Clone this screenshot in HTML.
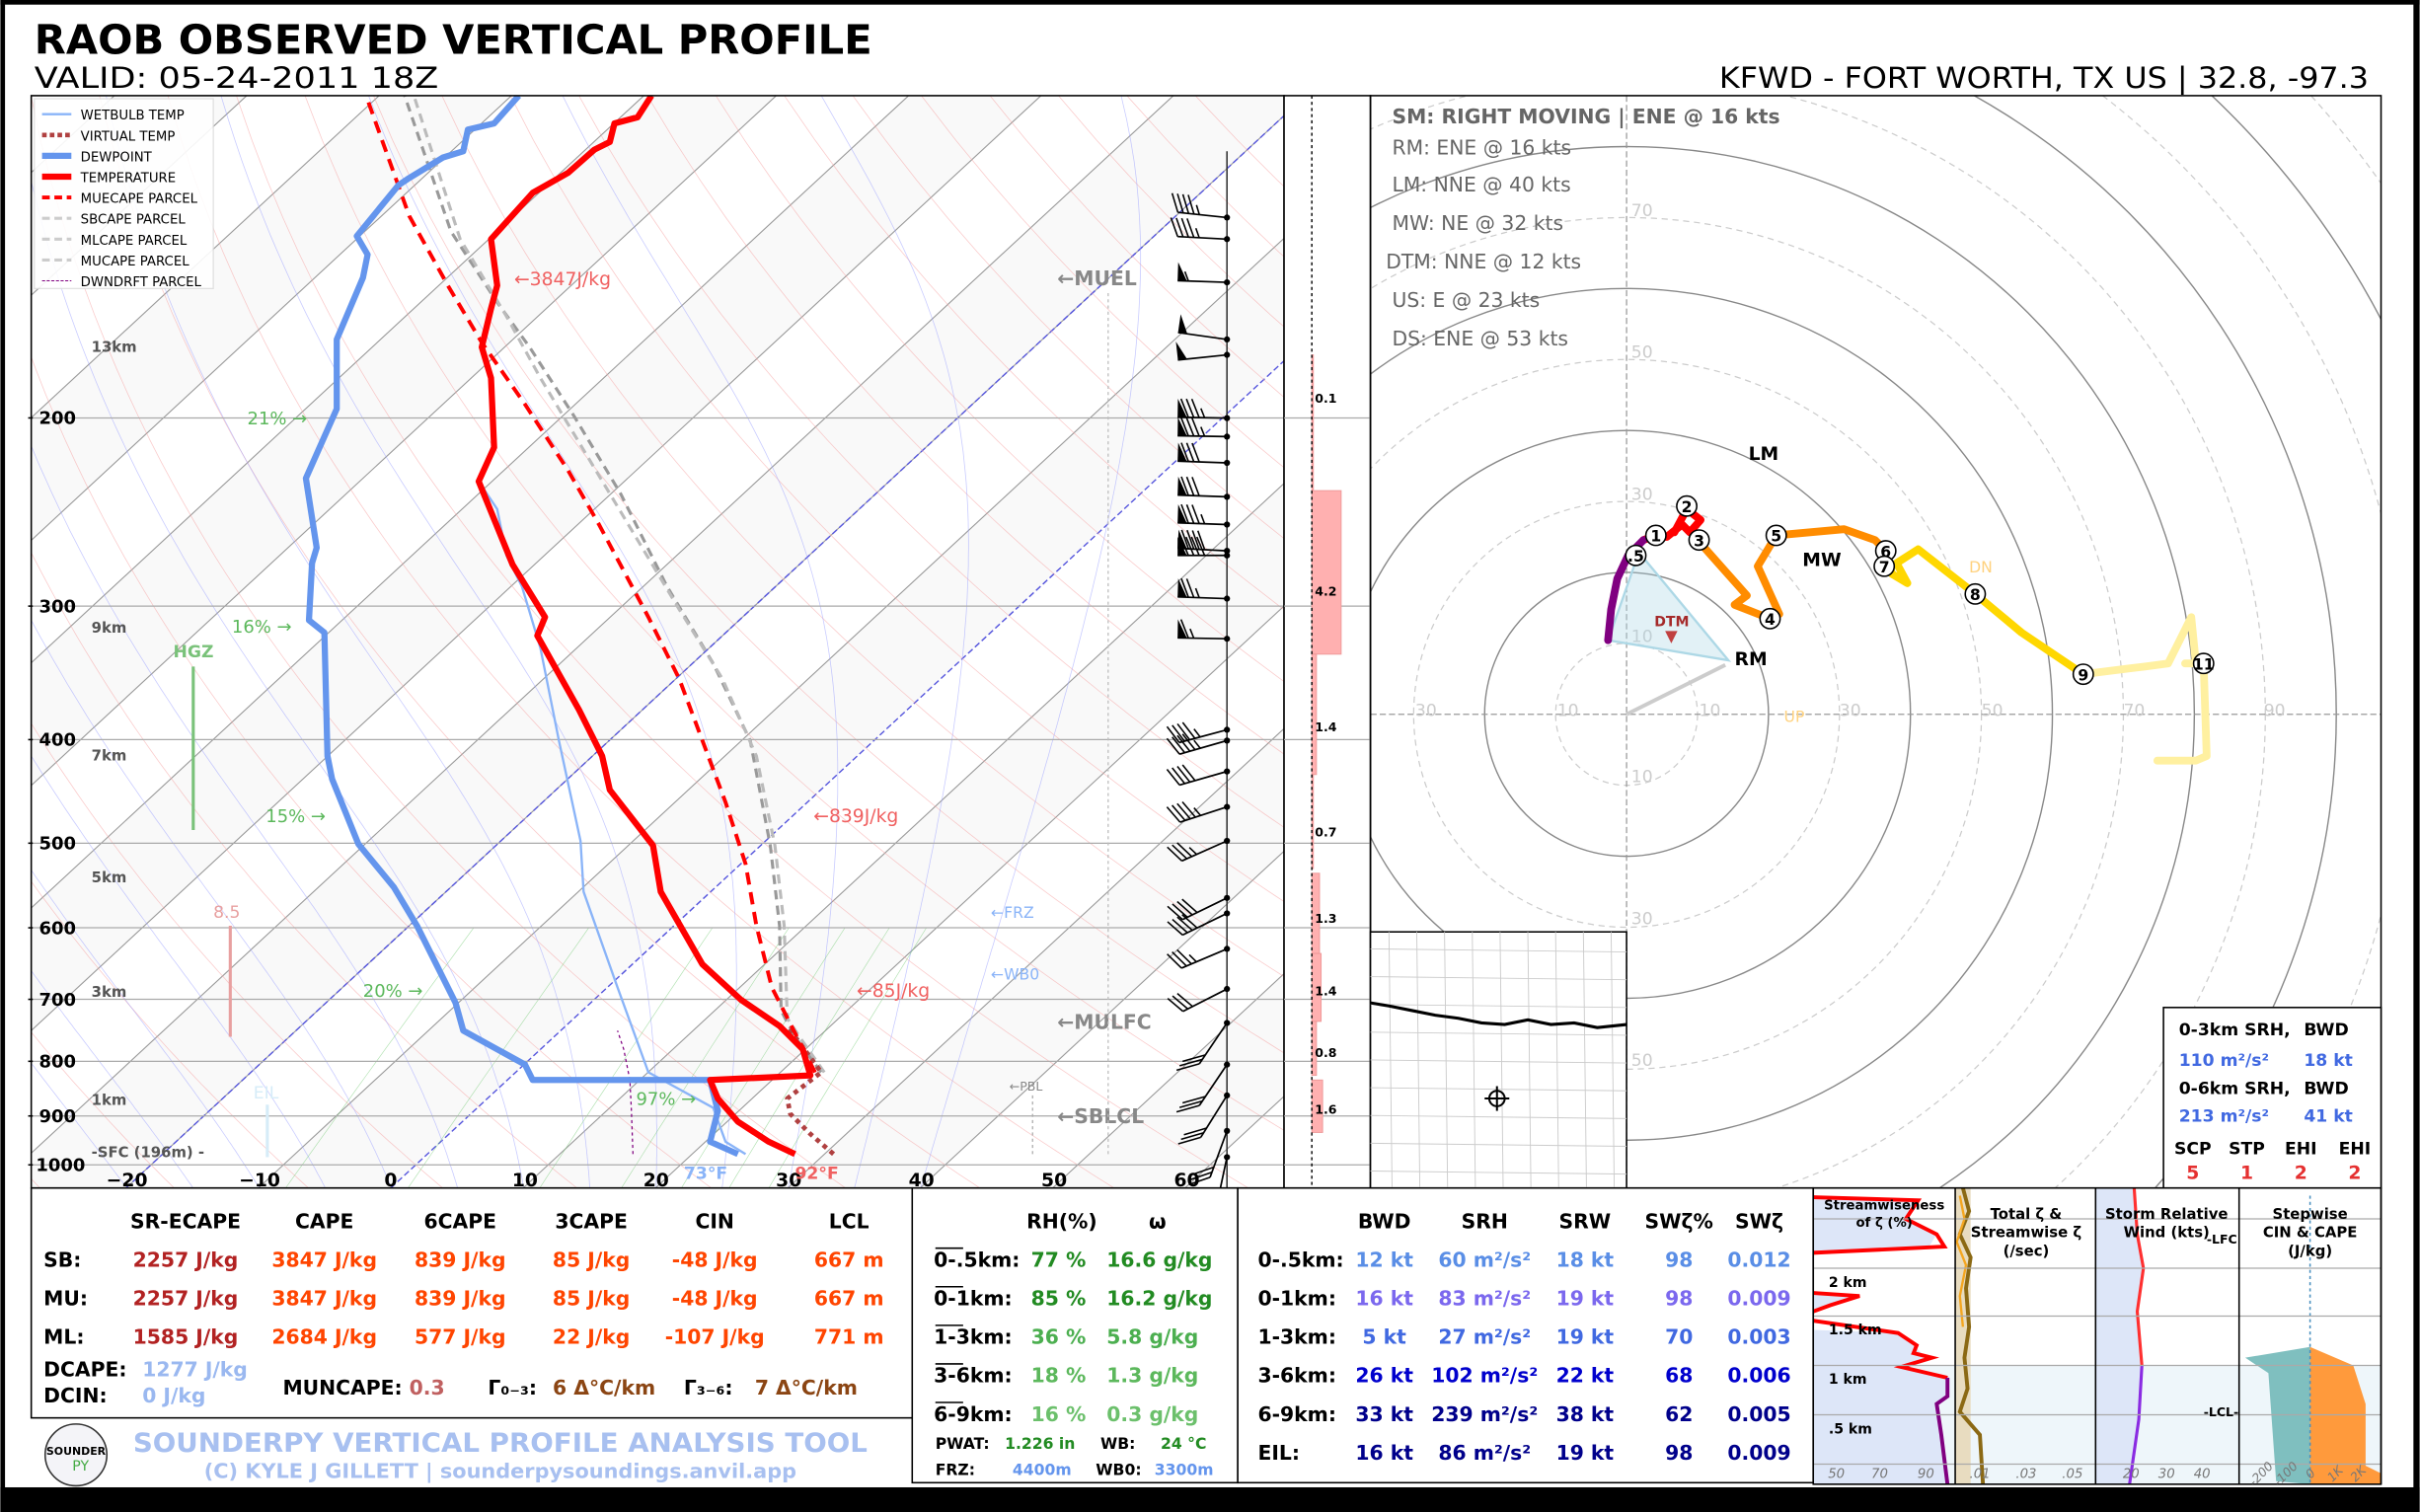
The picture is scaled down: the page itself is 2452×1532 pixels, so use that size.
<!DOCTYPE html>
<html><head><meta charset="utf-8">
<style>
html,body{margin:0;padding:0;background:#fff;overflow:hidden;width:2452px;height:1532px}
svg{display:block}
text{font-family:"DejaVu Sans","Liberation Sans",sans-serif}
</style></head>
<body>
<svg id="s" xmlns="http://www.w3.org/2000/svg" width="2452" height="1532" viewBox="0 0 1568 980">
<defs>
<clipPath id="cs"><rect x="20" y="62" width="812" height="708"/></clipPath>
<clipPath id="ch"><rect x="888" y="62" width="655" height="708"/></clipPath>
</defs>
<rect x="0" y="0" width="1568" height="980" fill="#fff"/>
<g id="skewbg" clip-path="url(#cs)"></g>
<g id="skewlines" clip-path="url(#cs)"></g>
<g id="hodo" clip-path="url(#ch)"></g>
<g id="barbs"></g>
<g id="main"></g>
</svg>
<script>
var NS="http://www.w3.org/2000/svg";
function el(p,tag,a,txt){var e=document.createElementNS(NS,tag);for(var k in a)e.setAttribute(k,a[k]);if(txt!==undefined)e.textContent=txt;document.getElementById(p).appendChild(e);return e;}
function yP(p){return 755+300.8*(Math.log(p)-Math.log(1000));}
var SK=1.08;
function xT(T,y){return 253+8.58*T+SK*(770-y);}
function pl(pts){return pts.map(function(q){return q[0].toFixed(1)+","+q[1].toFixed(1)}).join(" ");}
// shaded bands
for(var T=-150;T<80;T+=20){var y0=770,y1=62;
 el("skewbg","polygon",{points:pl([[xT(T,y0),y0],[xT(T+10,y0),y0],[xT(T+10,y1),y1],[xT(T,y1),y1]]),fill:"#f9f9f9"});}
// isotherms
for(var T=-160;T<=70;T+=10){
 el("skewbg","line",{x1:xT(T,770),y1:770,x2:xT(T,62),y2:62,stroke:T==0?"#5555dd":"#999",
 "stroke-width":T==0?0.9:0.7,"stroke-dasharray":T==0?"4,2":"none"});}
el("skewbg","line",{x1:xT(-20,770),y1:770,x2:xT(-20,62),y2:62,stroke:"#5555dd","stroke-width":0.9,"stroke-dasharray":"4,2"});
// dry adiabats
for(var th=-30;th<=200;th+=10){var pts=[];for(var p=1050;p>=100;p-=10){var Tk=(th+273.15)*Math.pow(p/1000,0.286)-273.15;var y=yP(p);pts.push([xT(Tk,y),y]);}
 el("skewbg","polyline",{points:pl(pts),fill:"none",stroke:"#f5a0a0","stroke-width":0.5,opacity:0.55});}
// moist adiabats
function es(T){return 6.112*Math.exp(17.67*T/(T+243.5));}
for(var t0=-20;t0<=40;t0+=5){var Tc=t0,pts=[];for(var p=1050;p>=100;p-=5){var y=yP(p);pts.push([xT(Tc,y),y]);
 var Tk=Tc+273.15,rs=0.622*es(Tc)/(p-es(Tc));var dTdp=(287*Tk+2.5e6*rs)/(p*(1004+2.5e6*2.5e6*rs*0.622/(287*Tk*Tk)));Tc-=dTdp*5;}
 el("skewbg","polyline",{points:pl(pts),fill:"none",stroke:"#9aa0ff","stroke-width":0.5,opacity:0.55});}
// mixing ratio lines
[2,4,8,12,16,20,24].forEach(function(w){var pts=[];for(var p=1050;p>=600;p-=25){var e=w/1000*p/(0.622+w/1000);var lnr=Math.log(e/6.112);var Td=243.5*lnr/(17.67-lnr);var y=yP(p);pts.push([xT(Td,y),y]);}
 el("skewbg","polyline",{points:pl(pts),fill:"none",stroke:"#7c7","stroke-width":0.4,opacity:0.6});});
[200,300,400,500,600,700,800,900,1000].forEach(function(p){var y=yP(p);
 el("skewbg","line",{x1:20,y1:y,x2:832,y2:y,stroke:"#aaa","stroke-width":0.8});});
// profiles
var S="skewlines";
function line(pts,st){var a={points:pl(pts),fill:"none","stroke-linejoin":"round"};for(var k in st)a[k]=st[k];el(S,"polyline",a);}
line([[410,748],[409,720],[408,700],[404,680],[400,668]],{stroke:"#800080","stroke-width":0.8,"stroke-dasharray":"2,2"});
line([[532,695],[515,672],[506,655],[505,600],[499,548],[486,480],[462,430],[432,380],[402,320],[372,270],[343,225],[322,196],[292,150],[262,62]],{stroke:"#999","stroke-width":2,"stroke-dasharray":"6,4"});
line([[534,695],[520,675],[510,660],[508,600],[502,548],[490,490],[468,440],[440,395],[410,345],[380,295],[350,245],[328,205],[298,155],[268,62]],{stroke:"#bbb","stroke-width":2,"stroke-dasharray":"6,4"});
line([[483,748],[470,740],[462,718],[420,695],[400,640],[378,578],[376,545],[362,480],[350,420],[338,380],[328,360],[322,330],[310,312]],{stroke:"#8ab4f8","stroke-width":1.5});
line([[540,748],[525,735],[512,722],[510,712],[532,695],[510,665]],{stroke:"#b04040","stroke-width":3,"stroke-dasharray":"3,3"});
line([[528,695],[500,640],[490,600],[483,560],[470,520],[455,480],[440,440],[420,400],[404,370],[388,340],[368,305],[340,262],[312,222],[290,185],[265,140],[237,62]],{stroke:"#ff0000","stroke-width":2.5,"stroke-dasharray":"8,5"});
line([[478,748],[460,740],[465,720],[460,700],[345,700],[340,690],[300,668],[295,650],[270,600],[255,575],[232,547],[215,505],[212,490],[210,410],[200,402],[202,365],[205,355],[198,310],[218,265],[218,220],[235,180],[238,165],[231,153],[258,120],[264,116],[287,102],[300,98],[303,84],[320,80],[336,62]],{stroke:"#6495ed","stroke-width":4});
line([[515,748],[498,740],[478,727],[465,712],[460,700],[525,697],[520,680],[505,665],[480,648],[455,625],[428,578],[423,548],[395,512],[390,490],[375,460],[348,412],[353,400],[332,366],[310,312],[320,290],[318,245],[312,225],[318,200],[322,185],[318,155],[345,125],[368,112],[385,97],[395,92],[398,80],[413,76],[422,62]],{stroke:"#ff0000","stroke-width":4});
var M="main";
el(M,"rect",{x:20,y:62,width:812,height:708,fill:"none",stroke:"#000","stroke-width":1});
el(M,"rect",{x:22,y:64,width:116,height:123,fill:"#fff",stroke:"#ddd","stroke-width":0.8,opacity:0.9});
var lg=[["WETBULB TEMP","#8ab4f8",1.5,""],["VIRTUAL TEMP","#b04040",3,"3,2"],["DEWPOINT","#6495ed",4,""],["TEMPERATURE","#ff0000",4,""],["MUECAPE PARCEL","#ff0000",2.5,"5,3"],["SBCAPE PARCEL","#ccc",2,"5,3"],["MLCAPE PARCEL","#ccc",2,"5,3"],["MUCAPE PARCEL","#ccc",2,"5,3"],["DWNDRFT PARCEL","#800080",0.7,"2,1"]];
lg.forEach(function(a,i){var y=74+i*13.5;el(M,"line",{x1:27,y1:y,x2:46,y2:y,stroke:a[1],"stroke-width":a[2],"stroke-dasharray":a[3]});
 el(M,"text",{x:52,y:y+3.5,"font-size":8.5,fill:"#000"},a[0]);});
[200,300,400,500,600,700,800,900,1000].forEach(function(p){var y=yP(p);el(M,"text",{x:p==1000?23:25,y:y+4,"font-size":11.5,"font-weight":"bold"},String(p));el(M,"line",{x1:18,y1:y,x2:21,y2:y,stroke:"#000"});});
[-20,-10,0,10,20,30,40,50,60].forEach(function(t,i){var x=[82,168,253,340,425,511,597,683,769][i];
 el(M,"text",{x:x,y:769,"font-size":12,"font-weight":"bold","text-anchor":"middle"},t<0?"\u2212"+(-t):String(t));});
[["13km",224],["9km",406],["7km",489],["5km",568],["3km",642],["1km",712]].forEach(function(a){el(M,"text",{x:59,y:a[1]+4,"font-size":9.5,"font-weight":"bold",fill:"#555"},a[0]);});
el(M,"text",{x:59,y:750,"font-size":9.5,"font-weight":"bold",fill:"#555"},"-SFC (196m) -");
[["21% \u2192",160,271],["16% \u2192",150,406],["15% \u2192",172,529],["20% \u2192",235,642],["97% \u2192",412,712]].forEach(function(a){el(M,"text",{x:a[1],y:a[2]+4,"font-size":11.5,fill:"#5cb85c"},a[0]);});
el(M,"text",{x:112,y:426,"font-size":11,"font-weight":"bold",fill:"#7ac27a"},"HGZ");
el(M,"line",{x1:125,y1:432,x2:125,y2:538,stroke:"#7ac27a","stroke-width":2});
el(M,"text",{x:138,y:595,"font-size":11,fill:"#e8a0a0"},"8.5");
el(M,"line",{x1:149,y1:600,x2:149,y2:672,stroke:"#e8a0a0","stroke-width":2});
el(M,"text",{x:164,y:712,"font-size":11,fill:"#d6ecf8"},"EIL");
el(M,"line",{x1:173,y1:716,x2:173,y2:750,stroke:"#d6ecf8","stroke-width":2});
el(M,"text",{x:333,y:185,"font-size":12,fill:"#f06060"},"\u21903847J/kg");
el(M,"text",{x:527,y:533,"font-size":12,fill:"#f06060"},"\u2190839J/kg");
el(M,"text",{x:555,y:646,"font-size":12,fill:"#f06060"},"\u219085J/kg");
[["\u2190MUEL",685,185],["\u2190MULFC",685,667],["\u2190SBLCL",685,728]].forEach(function(a){el(M,"text",{x:a[1],y:a[2],"font-size":13,"font-weight":"bold",fill:"#888"},a[0]);});
el(M,"text",{x:642,y:595,"font-size":10,fill:"#8ab4f8"},"\u2190FRZ");
el(M,"text",{x:642,y:635,"font-size":10,fill:"#8ab4f8"},"\u2190WB0");
el(M,"text",{x:654,y:707,"font-size":8,fill:"#888"},"\u2190PBL");
el(M,"line",{x1:669,y1:710,x2:669,y2:750,stroke:"#aaa","stroke-width":0.8,"stroke-dasharray":"2,2"});
el(M,"line",{x1:718,y1:190,x2:718,y2:750,stroke:"#bbb","stroke-width":0.8,"stroke-dasharray":"2,2"});
el(M,"text",{x:443,y:764,"font-size":11,"font-weight":"bold",fill:"#8ab4f8"},"73\u00b0F");
el(M,"text",{x:515,y:764,"font-size":11,"font-weight":"bold",fill:"#f06060"},"92\u00b0F");
el(M,"text",{x:22,y:35,"font-size":26,"font-weight":"bold",textLength:543,lengthAdjust:"spacingAndGlyphs"},"RAOB OBSERVED VERTICAL PROFILE");
el(M,"text",{x:22,y:57,"font-size":19,textLength:262,lengthAdjust:"spacingAndGlyphs"},"VALID: 05-24-2011 18Z");
el(M,"text",{x:1535,y:57,"font-size":19,"text-anchor":"end",textLength:421,lengthAdjust:"spacingAndGlyphs"},"KFWD - FORT WORTH, TX US | 32.8, -97.3");
var B="barbs";
el(B,"line",{x1:795,y1:98,x2:795,y2:770,stroke:"#333","stroke-width":1});
function barb(y,kts,ang){var a=ang*Math.PI/180,ux=Math.cos(a),uy=-Math.sin(a),L=32;var x0=795,tx=x0+L*ux,ty=y+L*uy;
 el(B,"circle",{cx:x0,cy:y,r:2,fill:"#000"});el(B,"line",{x1:x0,y1:y,x2:tx,y2:ty,stroke:"#000","stroke-width":1.1});
 var px=-uy,py=ux;if(py>0){px=-px;py=-py;}
 if(Math.abs(uy)>0.5){px=-1;py=0;}
 var d=0,k=kts;
 while(k>=50){var bx=tx-d*ux,by=ty-d*uy;el(B,"polygon",{points:pl([[bx,by],[bx+12*px,by+12*py],[bx-6*ux,by-6*uy]]),fill:"#000"});d+=7;k-=50;}
 while(k>=10){var bx=tx-d*ux,by=ty-d*uy;el(B,"line",{x1:bx,y1:by,x2:bx+12*px+5*ux,y2:by+12*py+5*uy,stroke:"#000","stroke-width":1});d+=3.5;k-=10;}
 if(k>=5){if(d==0)d=3.5;var bx=tx-d*ux,by=ty-d*uy;el(B,"line",{x1:bx,y1:by,x2:bx+6*px+2.5*ux,y2:by+6*py+2.5*uy,stroke:"#000","stroke-width":1});}}
[[141,45,174],[155,45,177],[183,55,178],[220,50,172],[230,50,186],[271,85,179],[283,85,179],[300,80,178],[322,80,178],[340,85,178],[357,90,177],[360,90,180],[388,75,178],[414,65,179],[473,45,195],[480,45,196],[500,40,196],[523,45,198],[545,35,204],[582,40,206],[592,40,206],[615,35,203],[641,30,207],[663,30,236],[690,30,236],[710,30,238],[733,30,250],[750,25,258]].forEach(function(b){barb(b[0],b[1],b[2]);});
el(M,"rect",{x:832,y:62,width:56,height:708,fill:"#fff",stroke:"#000","stroke-width":1});
[200,300,400,500,600,700,800,900,1000].forEach(function(p){var y=yP(p);el(M,"line",{x1:832,y1:y,x2:888,y2:y,stroke:"#aaa","stroke-width":0.8});});
[[318,424,869],[424,502,853],[502,563,851],[566,618,855],[618,662,856],[662,697,853],[700,734,857],[230,318,851]].forEach(function(r){el(M,"rect",{x:850,y:r[0],width:r[2]-850,height:r[1]-r[0],fill:"#ffb0b0",stroke:"#e99","stroke-width":0.6});});
el(M,"line",{x1:850,y1:62,x2:850,y2:770,stroke:"#000","stroke-width":0.9,"stroke-dasharray":"2,2"});
[["0.1",258],["4.2",383],["1.4",471],["0.7",539],["1.3",595],["1.4",642],["0.8",682],["1.6",719]].forEach(function(a){el(M,"text",{x:852,y:a[1]+3,"font-size":8,"font-weight":"bold"},a[0]);});
var H="hodo",cx=1054,cy=463,sc=4.6;
for(var r=10;r<=140;r+=10){el(H,"circle",{cx:cx,cy:cy,r:r*sc,fill:"none",stroke:r%20==0?"#888":"#ccc","stroke-width":r%20==0?0.9:0.8,"stroke-dasharray":r%20==0?"none":"4,3"});}
el(H,"line",{x1:888,y1:cy,x2:1543,y2:cy,stroke:"#999","stroke-width":0.8,"stroke-dasharray":"4,2"});
el(H,"line",{x1:cx,y1:62,x2:cx,y2:770,stroke:"#999","stroke-width":0.8,"stroke-dasharray":"4,2"});
[["30",924],["10",1016],["10",1108],["30",1199],["50",1291],["70",1383],["90",1474]].forEach(function(a){el(H,"text",{x:a[1],y:cy+1,"font-size":11,fill:"#ccc","text-anchor":"middle"},a[0]);});
[["70",140],["50",232],["30",324],["10",416],["10",507],["30",599],["50",691]].forEach(function(a){el(H,"text",{x:cx+3,y:a[1],"font-size":11,fill:"#ccc"},a[0]);});
el(H,"polygon",{points:"1042,415 1062,358 1120,428",fill:"#add8e6","fill-opacity":0.35,stroke:"#add8e6","stroke-width":1.5});
el(H,"line",{x1:cx,y1:cy,x2:1118,y2:431,stroke:"#ccc","stroke-width":2.5});
function hl(pts,c){el(H,"polyline",{points:pl(pts),fill:"none",stroke:c,"stroke-width":5,"stroke-linejoin":"round","stroke-linecap":"round"});}
hl([[1416,430],[1428,430],[1430,490],[1423,493],[1398,493]],"#fff0a0");
hl([[1350,437],[1390,432],[1405,430],[1415,410],[1420,400],[1423,430]],"#fff0a0");
hl([[1222,357],[1226,372],[1236,378],[1229,365],[1243,356],[1280,385],[1310,410],[1350,437]],"#ffd700");
hl([[1100,350],[1132,386],[1124,392],[1147,401],[1153,398],[1139,367],[1151,347],[1195,343],[1215,350],[1222,357]],"#ff8c00");
hl([[1065,350],[1073,347],[1080,348],[1090,340],[1095,345],[1102,337],[1093,330],[1085,345]],"#ff0000");
hl([[1042,415],[1044,395],[1048,375],[1055,360],[1065,350]],"#800080");
[[".5",1060,360],["1",1073,347],["2",1093,328],["3",1101,350],["4",1147,401],["5",1151,347],["6",1222,357],["7",1221,367],["8",1280,385],["9",1350,437],["11",1428,430]].forEach(function(a){
 el(H,"circle",{cx:a[1],cy:a[2],r:6.5,fill:"#fff",stroke:"#000","stroke-width":1});el(H,"text",{x:a[1],y:a[2]+4,"font-size":10,"text-anchor":"middle","font-weight":"bold"},a[0]);});
el(H,"text",{x:1133,y:298,"font-size":12,"font-weight":"bold"},"LM");
el(H,"text",{x:1168,y:367,"font-size":12,"font-weight":"bold"},"MW");
el(H,"text",{x:1124,y:431,"font-size":12,"font-weight":"bold"},"RM");
el(H,"text",{x:1072,y:406,"font-size":9,"font-weight":"bold",fill:"#a52a2a"},"DTM");
el(H,"polygon",{points:"1079,409 1087,409 1083,417",fill:"#c04040"});
el(H,"text",{x:1276,y:371,"font-size":10,fill:"#ffd27f"},"DN");
el(H,"text",{x:1156,y:468,"font-size":10,fill:"#ffd27f"},"UP");
el(H,"text",{x:902,y:80,"font-size":13,"font-weight":"bold",fill:"#666"},"SM: RIGHT MOVING | ENE @ 16 kts");
[["RM: ENE @ 16 kts",902,100],["LM: NNE @ 40 kts",902,124],["MW: NE @ 32 kts",902,149],["DTM: NNE @ 12 kts",898,174],["US: E @ 23 kts",902,199],["DS: ENE @ 53 kts",902,224]].forEach(function(a){el(H,"text",{x:a[1],y:a[2],"font-size":13,fill:"#666"},a[0]);});
el(M,"rect",{x:888,y:62,width:655,height:708,fill:"none",stroke:"#000","stroke-width":1});
el(M,"rect",{x:888,y:604,width:166,height:166,fill:"#fff",stroke:"#000","stroke-width":1});
for(var i=0;i<9;i++){el(M,"line",{x1:888,y1:615+i*18,x2:1054,y2:617+i*18,stroke:"#ccc","stroke-width":0.6});el(M,"line",{x1:900+i*18,y1:604,x2:902+i*18,y2:770,stroke:"#ccc","stroke-width":0.6});}
el(M,"polyline",{points:"888,650 900,652 915,655 930,658 945,660 960,663 975,664 990,661 1005,664 1020,663 1035,666 1054,664",fill:"none",stroke:"#000","stroke-width":2});
el(M,"circle",{cx:970,cy:712,r:5,fill:"none",stroke:"#000","stroke-width":1.3});
el(M,"line",{x1:962,y1:712,x2:978,y2:712,stroke:"#000","stroke-width":1.3});el(M,"line",{x1:970,y1:704,x2:970,y2:720,stroke:"#000","stroke-width":1.3});
el(M,"rect",{x:1402,y:653,width:141,height:117,fill:"#fff",stroke:"#000","stroke-width":1});
el(M,"text",{x:1412,y:671,"font-size":11,"font-weight":"bold"},"0-3km SRH,");el(M,"text",{x:1493,y:671,"font-size":11,"font-weight":"bold"},"BWD");
el(M,"text",{x:1412,y:691,"font-size":11,"font-weight":"bold",fill:"#4169e1"},"110 m\u00b2/s\u00b2");el(M,"text",{x:1493,y:691,"font-size":11,"font-weight":"bold",fill:"#4169e1"},"18 kt");
el(M,"text",{x:1412,y:709,"font-size":11,"font-weight":"bold"},"0-6km SRH,");el(M,"text",{x:1493,y:709,"font-size":11,"font-weight":"bold"},"BWD");
el(M,"text",{x:1412,y:727,"font-size":11,"font-weight":"bold",fill:"#4169e1"},"213 m\u00b2/s\u00b2");el(M,"text",{x:1493,y:727,"font-size":11,"font-weight":"bold",fill:"#4169e1"},"41 kt");
[["SCP",1421,"5"],["STP",1456,"1"],["EHI",1491,"2"],["EHI",1526,"2"]].forEach(function(a){el(M,"text",{x:a[1],y:748,"font-size":11,"font-weight":"bold","text-anchor":"middle"},a[0]);el(M,"text",{x:a[1],y:764,"font-size":12,"font-weight":"bold",fill:"#e53030","text-anchor":"middle"},a[2]);});
el(M,"rect",{x:20,y:770,width:571,height:149,fill:"#fff",stroke:"#000","stroke-width":1});
el(M,"rect",{x:591,y:770,width:211,height:191,fill:"#fff",stroke:"#000","stroke-width":1});
el(M,"rect",{x:802,y:770,width:373,height:191,fill:"#fff",stroke:"#000","stroke-width":1});
var hx=[["SR-ECAPE",120],["CAPE",210],["6CAPE",298],["3CAPE",383],["CIN",463],["LCL",550]];
hx.forEach(function(a){el(M,"text",{x:a[1],y:796,"font-size":13,"font-weight":"bold","text-anchor":"middle"},a[0]);});
var rows=[["SB:",["2257 J/kg","3847 J/kg","839 J/kg","85 J/kg","-48 J/kg","667 m"]],["MU:",["2257 J/kg","3847 J/kg","839 J/kg","85 J/kg","-48 J/kg","667 m"]],["ML:",["1585 J/kg","2684 J/kg","577 J/kg","22 J/kg","-107 J/kg","771 m"]]];
var cols=["#b22222","#ff4500","#ff4500","#ff4500","#ff4500","#ff4500"];
rows.forEach(function(r,i){var y=821+i*25;el(M,"text",{x:28,y:y,"font-size":13,"font-weight":"bold"},r[0]);
 r[1].forEach(function(v,j){el(M,"text",{x:hx[j][1],y:y,"font-size":13,"font-weight":"bold","text-anchor":"middle",fill:cols[j]},v);});});
el(M,"text",{x:28,y:892,"font-size":13,"font-weight":"bold"},"DCAPE:");el(M,"text",{x:92,y:892,"font-size":13,"font-weight":"bold",fill:"#9ab8f0"},"1277 J/kg");
el(M,"text",{x:28,y:909,"font-size":13,"font-weight":"bold"},"DCIN:");el(M,"text",{x:92,y:909,"font-size":13,"font-weight":"bold",fill:"#9ab8f0"},"0 J/kg");
el(M,"text",{x:183,y:904,"font-size":13,"font-weight":"bold"},"MUNCAPE:");el(M,"text",{x:265,y:904,"font-size":13,"font-weight":"bold",fill:"#c06060"},"0.3");
el(M,"text",{x:316,y:904,"font-size":13,"font-weight":"bold"},"\u0393\u2080\u208b\u2083:");el(M,"text",{x:358,y:904,"font-size":13,"font-weight":"bold",fill:"#8b4513"},"6 \u0394\u00b0C/km");
el(M,"text",{x:443,y:904,"font-size":13,"font-weight":"bold"},"\u0393\u2083\u208b\u2086:");el(M,"text",{x:489,y:904,"font-size":13,"font-weight":"bold",fill:"#8b4513"},"7 \u0394\u00b0C/km");
el(M,"circle",{cx:49,cy:943,r:20,fill:"#f4f4f8",stroke:"#333","stroke-width":1});
el(M,"text",{x:49,y:943,"font-size":7,"font-weight":"bold","text-anchor":"middle"},"SOUNDER");
el(M,"text",{x:52,y:953,"font-size":9,fill:"#4a4","text-anchor":"middle"},"PY");
el(M,"text",{x:324,y:941,"font-size":17,"font-weight":"bold",fill:"#a8c0f0","text-anchor":"middle",textLength:476,lengthAdjust:"spacingAndGlyphs"},"SOUNDERPY VERTICAL PROFILE ANALYSIS TOOL");
el(M,"text",{x:324,y:958,"font-size":13,"font-weight":"bold",fill:"#a8c0f0","text-anchor":"middle",textLength:384,lengthAdjust:"spacingAndGlyphs"},"(C) KYLE J GILLETT | sounderpysoundings.anvil.app");
el(M,"text",{x:688,y:796,"font-size":13,"font-weight":"bold","text-anchor":"middle"},"RH(%)");
el(M,"text",{x:750,y:796,"font-size":13,"font-weight":"bold","text-anchor":"middle"},"\u03c9");
[["0-.5",["77 %","16.6 g/kg"],"#228b22"],["0-1",["85 %","16.2 g/kg"],"#228b22"],["1-3",["36 %","5.8 g/kg"],"#4caf50"],["3-6",["18 %","1.3 g/kg"],"#5cb85c"],["6-9",["16 %","0.3 g/kg"],"#6cc06c"]].forEach(function(r,i){var y=821+i*25;
 el(M,"line",{x1:606,y1:y-12,x2:624,y2:y-12,stroke:"#000","stroke-width":1});
 el(M,"text",{x:605,y:y,"font-size":13,"font-weight":"bold"},r[0]+"km:");
 el(M,"text",{x:668,y:y,"font-size":13,"font-weight":"bold",fill:r[2]},r[1][0]);
 el(M,"text",{x:717,y:y,"font-size":13,"font-weight":"bold",fill:r[2]},r[1][1]);});
el(M,"text",{x:606,y:939,"font-size":10,"font-weight":"bold"},"PWAT:");el(M,"text",{x:651,y:939,"font-size":10,"font-weight":"bold",fill:"#228b22"},"1.226 in");
el(M,"text",{x:713,y:939,"font-size":10,"font-weight":"bold"},"WB:");el(M,"text",{x:752,y:939,"font-size":10,"font-weight":"bold",fill:"#228b22"},"24 \u00b0C");
el(M,"text",{x:606,y:956,"font-size":10,"font-weight":"bold"},"FRZ:");el(M,"text",{x:656,y:956,"font-size":10,"font-weight":"bold",fill:"#6495ed"},"4400m");
el(M,"text",{x:710,y:956,"font-size":10,"font-weight":"bold"},"WB0:");el(M,"text",{x:748,y:956,"font-size":10,"font-weight":"bold",fill:"#6495ed"},"3300m");
var h3=[["BWD",897],["SRH",962],["SRW",1027],["SW\u03b6%",1088],["SW\u03b6",1140]];
h3.forEach(function(a){el(M,"text",{x:a[1],y:796,"font-size":13,"font-weight":"bold","text-anchor":"middle"},a[0]);});
[["0-.5km:",["12 kt","60 m\u00b2/s\u00b2","18 kt","98","0.012"],"#5a8ee6"],["0-1km:",["16 kt","83 m\u00b2/s\u00b2","19 kt","98","0.009"],"#7b68ee"],["1-3km:",["5 kt","27 m\u00b2/s\u00b2","19 kt","70","0.003"],"#4169e1"],["3-6km:",["26 kt","102 m\u00b2/s\u00b2","22 kt","68","0.006"],"#0000cd"],["6-9km:",["33 kt","239 m\u00b2/s\u00b2","38 kt","62","0.005"],"#00008b"],["EIL:",["16 kt","86 m\u00b2/s\u00b2","19 kt","98","0.009"],"#00008b"]].forEach(function(r,i){var y=821+i*25;
 el(M,"text",{x:815,y:y,"font-size":13,"font-weight":"bold"},r[0]);
 r[1].forEach(function(v,j){el(M,"text",{x:h3[j][1],y:y,"font-size":13,"font-weight":"bold","text-anchor":"middle",fill:r[2]},v);});});
var gy=[790,822,853,885,917,949];
el(M,"rect",{x:1175,y:885,width:368,height:77,fill:"#eef6fa"});
el(M,"polygon",{points:"1175,776 1243,778 1235,790 1255,800 1250,808 1175,812 1175,838 1205,840 1186,846 1175,850 1175,862 1230,864 1240,872 1250,882 1237,886 1263,893 1262,905 1255,910 1262,962 1175,962",fill:"#dde6f8"});
el(M,"polyline",{points:"1175,776 1243,778 1235,790 1255,800 1260,808 1175,812",fill:"none",stroke:"#f00","stroke-width":2.5});
el(M,"polyline",{points:"1175,838 1205,840 1186,846 1175,850",fill:"none",stroke:"#f00","stroke-width":2.5});
el(M,"polyline",{points:"1175,856 1230,864 1242,872 1240,877 1252,880 1232,886 1262,893",fill:"none",stroke:"#f00","stroke-width":2.5});
el(M,"polyline",{points:"1262,893 1262,905 1255,910 1258,930 1262,962",fill:"none",stroke:"#800080","stroke-width":2.5});
el(M,"rect",{x:1267,y:770,width:10,height:192,fill:"#e8dcc0"});
el(M,"polyline",{points:"1272,770 1276,785 1270,800 1277,815 1274,835 1276,860 1273,880 1275,900 1270,915 1283,930 1285,962",fill:"none",stroke:"#8b6914","stroke-width":2.5});
el(M,"polyline",{points:"1270,775 1273,790 1268,805 1274,820 1270,840 1272,860",fill:"none",stroke:"#f4a620","stroke-width":1.5});
el(M,"polygon",{points:"1358,770 1383,770 1385,800 1389,822 1385,850 1388,885 1386,920 1380,962 1358,962",fill:"#dde6f8"});
el(M,"polyline",{points:"1383,770 1385,800 1389,822 1385,850 1388,885",fill:"none",stroke:"#ff3030","stroke-width":2});
el(M,"polyline",{points:"1388,885 1386,920 1380,962",fill:"none",stroke:"#8a2be2","stroke-width":2});
el(M,"polygon",{points:"1497,873 1455,880 1470,890 1475,960 1497,962",fill:"#7fbfbf"});
el(M,"polygon",{points:"1497,873 1525,885 1533,910 1533,950 1543,955 1543,962 1497,962",fill:"#ff9a3c"});
el(M,"line",{x1:1497,y1:775,x2:1497,y2:962,stroke:"#4a90c0","stroke-width":1,"stroke-dasharray":"2,2"});
gy.forEach(function(y){el(M,"line",{x1:1175,y1:y,x2:1543,y2:y,stroke:"#aaa","stroke-width":0.8});});
[1175,1267,1358,1451,1543].forEach(function(x){el(M,"line",{x1:x,y1:770,x2:x,y2:962,stroke:"#000","stroke-width":1});});
el(M,"rect",{x:1175,y:770,width:368,height:192,fill:"none",stroke:"#000","stroke-width":1});
[["2 km",834],["1.5 km",865],["1 km",897],[".5 km",929]].forEach(function(a){el(M,"text",{x:1185,y:a[1],"font-size":9,"font-weight":"bold"},a[0]);});
el(M,"text",{x:1221,y:784,"font-size":8.5,"font-weight":"bold","text-anchor":"middle"},"Streamwiseness");
el(M,"text",{x:1221,y:795,"font-size":8.5,"font-weight":"bold","text-anchor":"middle"},"of \u03b6 (%)");
el(M,"text",{x:1313,y:790,"font-size":9.5,"font-weight":"bold","text-anchor":"middle"},"Total \u03b6 &");
el(M,"text",{x:1313,y:802,"font-size":9.5,"font-weight":"bold","text-anchor":"middle"},"Streamwise \u03b6");
el(M,"text",{x:1313,y:814,"font-size":9.5,"font-weight":"bold","text-anchor":"middle"},"(/sec)");
el(M,"text",{x:1404,y:790,"font-size":9.5,"font-weight":"bold","text-anchor":"middle"},"Storm Relative");
el(M,"text",{x:1404,y:802,"font-size":9.5,"font-weight":"bold","text-anchor":"middle"},"Wind (kts)");
el(M,"text",{x:1430,y:806,"font-size":8,"font-weight":"bold"},"-LFC");
el(M,"text",{x:1428,y:918,"font-size":8,"font-weight":"bold"},"-LCL-");
el(M,"text",{x:1497,y:790,"font-size":9.5,"font-weight":"bold","text-anchor":"middle"},"Stepwise");
el(M,"text",{x:1497,y:802,"font-size":9.5,"font-weight":"bold","text-anchor":"middle"},"CIN & CAPE");
el(M,"text",{x:1497,y:814,"font-size":9.5,"font-weight":"bold","text-anchor":"middle"},"(J/kg)");
[["50",1190],["70",1218],["90",1248],[".01",1283],[".03",1313],[".05",1343],["20",1381],["30",1404],["40",1427]].forEach(function(a){el(M,"text",{x:a[1],y:958,"font-size":8.5,"font-style":"italic",fill:"#777","text-anchor":"middle"},a[0]);});
[["-200",1465],["-100",1481],["0",1497],["1K",1513],["2K",1528]].forEach(function(a){el(M,"text",{x:a[1],y:958,"font-size":8,"font-style":"italic",fill:"#777","text-anchor":"middle",transform:"rotate(-45 "+a[1]+" 955)"},a[0]);});
el(M,"rect",{x:0,y:0,width:1568,height:3,fill:"#000"});
el(M,"rect",{x:0,y:0,width:3,height:980,fill:"#000"});
el(M,"rect",{x:1564,y:0,width:4,height:980,fill:"#000"});
el(M,"rect",{x:0,y:964,width:1568,height:16,fill:"#000"});
</script>
</body></html>
